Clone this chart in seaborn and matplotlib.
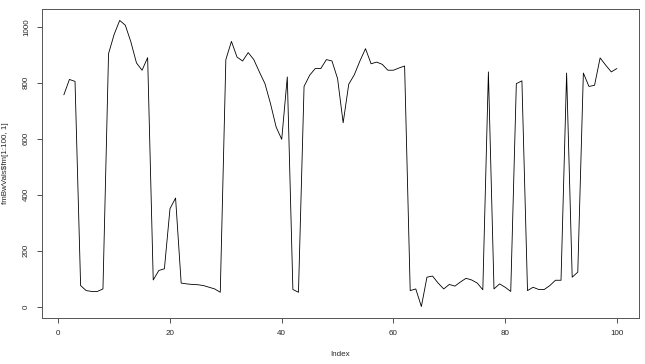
import matplotlib
matplotlib.use("Agg")
import matplotlib.pyplot as plt
import seaborn as sns
import numpy as np
import pandas as pd

index = list(range(1, 101))
values = [757, 812, 805, 75, 57, 54, 54, 63, 904, 973,
          1023, 1006, 946, 871, 845, 890, 95, 129, 135, 350,
          388, 84, 81, 79, 78, 75, 69, 63, 51, 883,
          948, 892, 878, 908, 883, 839, 797, 725, 642, 598,
          821, 61, 51, 787, 827, 851, 851, 883, 878, 815,
          657, 795, 829, 878, 922, 868, 874, 866, 845, 845,
          853, 860, 57, 63, 0, 105, 109, 84, 63, 79,
          73, 88, 101, 95, 84, 60, 839, 63, 81, 69,
          54, 797, 807, 57, 69, 61, 61, 75, 94, 94,
          835, 105, 123, 835, 787, 791, 889, 863, 839, 851]
xticks = [0, 20, 40, 60, 80, 100]
yticks = [0, 200, 400, 600, 800, 1000]
xlabel = "Index"
ylabel = "fmBwVals$fm[1:100, 1]"

sns.set_style("white")
plt.rcParams['font.family'] = ['Liberation Sans', 'DejaVu Sans']

df = pd.DataFrame({"Index": index, "value": values})

fig = plt.figure(figsize=(6.45, 3.64), dpi=100)
ax = fig.add_axes([0.0647, 0.1264, 0.9907 - 0.0647, 0.9753 - 0.1264])
sns.lineplot(data=df, x="Index", y="value", ax=ax, color="black", linewidth=0.6)

xr = max(index) - min(index)
ax.set_xlim(min(index) - 0.04 * xr, max(index) + 0.04 * xr)
yr = max(values) - min(values)
ax.set_ylim(min(values) - 0.04 * yr, max(values) + 0.04 * yr)

ax.set_xticks(xticks)
ax.set_yticks(yticks)
ax.set_xticklabels([str(t) for t in xticks])
ax.set_yticklabels([str(t) for t in yticks], rotation=90, va="center")
ax.tick_params(axis="both", direction="out", length=3.5, width=0.6,
               color="#333333", labelsize=5.8, pad=5, bottom=True, left=True)
for s in ax.spines.values():
    s.set_visible(True)
    s.set_color("#555555")
    s.set_linewidth(0.7)

ax.set_xlabel(xlabel, fontsize=5.8, labelpad=10)
ax.set_ylabel(ylabel, fontsize=5.8, labelpad=10)

fig.savefig("out.png", dpi=100, facecolor="white")
